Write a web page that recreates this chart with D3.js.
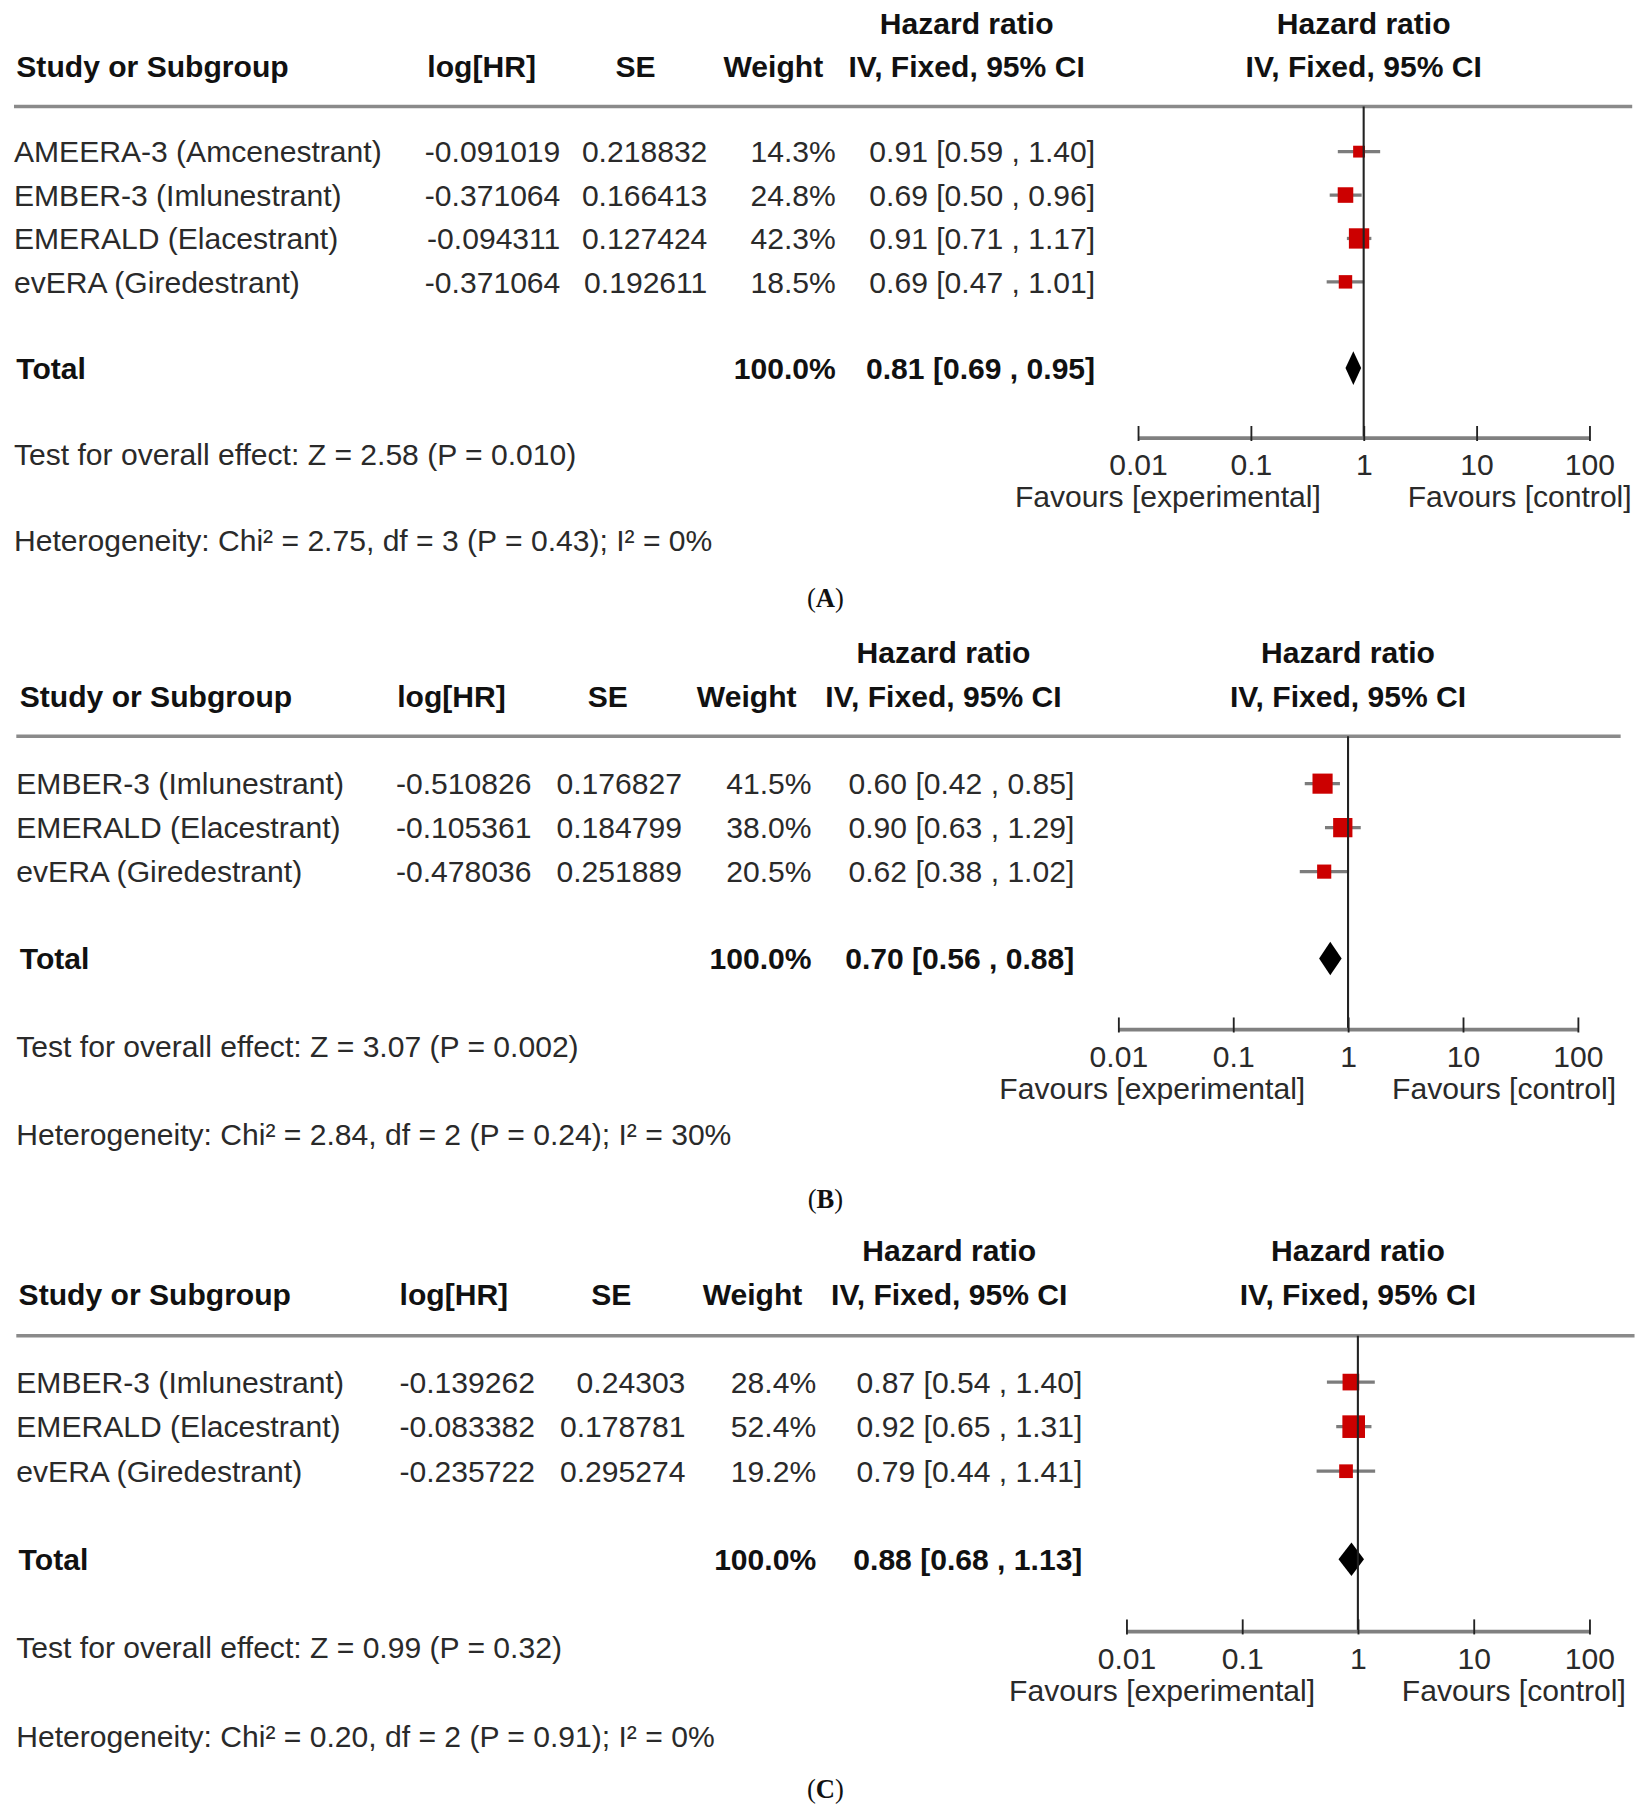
<!DOCTYPE html>
<html>
<head>
	<meta charset="utf-8">
	<script type="text/javascript" src="https://cdn.jsdelivr.net/npm/d3@7"></script>
	<title>Forest plots</title>
	<style>
		body { margin: 0; background: #fff; }
		text { font-family: "Liberation Sans", Arial, sans-serif; }
	</style>
</head>
<body>
<script type="text/javascript">

	/*------ Data ------*/

	var studiesA = ['AMEERA-3 (Amcenestrant)', 'EMBER-3 (Imlunestrant)', 'EMERALD (Elacestrant)', 'evERA (Giredestrant)'];
	var logHRA  = ['-0.091019', '-0.371064', '-0.094311', '-0.371064'];
	var seA     = ['0.218832', '0.166413', '0.127424', '0.192611'];
	var weightA = [14.3, 24.8, 42.3, 18.5];
	var hrA     = [0.91, 0.69, 0.91, 0.69];
	var lowerA  = [0.59, 0.50, 0.71, 0.47];
	var upperA  = [1.40, 0.96, 1.17, 1.01];
	var totalA  = [0.81, 0.69, 0.95];
	var testA   = 'Test for overall effect: Z = 2.58 (P = 0.010)';
	var hetA    = 'Heterogeneity: Chi\u00b2 = 2.75, df = 3 (P = 0.43); I\u00b2 = 0%';

	var studiesB = ['EMBER-3 (Imlunestrant)', 'EMERALD (Elacestrant)', 'evERA (Giredestrant)'];
	var logHRB  = ['-0.510826', '-0.105361', '-0.478036'];
	var seB     = ['0.176827', '0.184799', '0.251889'];
	var weightB = [41.5, 38.0, 20.5];
	var hrB     = [0.60, 0.90, 0.62];
	var lowerB  = [0.42, 0.63, 0.38];
	var upperB  = [0.85, 1.29, 1.02];
	var totalB  = [0.70, 0.56, 0.88];
	var testB   = 'Test for overall effect: Z = 3.07 (P = 0.002)';
	var hetB    = 'Heterogeneity: Chi\u00b2 = 2.84, df = 2 (P = 0.24); I\u00b2 = 30%';

	var studiesC = ['EMBER-3 (Imlunestrant)', 'EMERALD (Elacestrant)', 'evERA (Giredestrant)'];
	var logHRC  = ['-0.139262', '-0.083382', '-0.235722'];
	var seC     = ['0.24303', '0.178781', '0.295274'];
	var weightC = [28.4, 52.4, 19.2];
	var hrC     = [0.87, 0.92, 0.79];
	var lowerC  = [0.54, 0.65, 0.44];
	var upperC  = [1.40, 1.31, 1.41];
	var totalC  = [0.88, 0.68, 1.13];
	var testC   = 'Test for overall effect: Z = 0.99 (P = 0.32)';
	var hetC    = 'Heterogeneity: Chi\u00b2 = 0.20, df = 2 (P = 0.91); I\u00b2 = 0%';

	var totalWeights = ['100.0%', '100.0%', '100.0%'];
	var tickValues = [0.01, 0.1, 1, 10, 100];
	var tickLabels = ['0.01', '0.1', '1', '10', '100'];
	var captions = ['A', 'B', 'C'];

	/*------ Layout of each panel (drawing units = 1427 x 1568) ------*/

	var layouts = [
		{ top: 20, colHead: 57, sep: 92, row0: 131, step: 37.5, total: 318, axis: 378, test: 392, het: 467, cap: 516,
		  nameX: 12, headX: 14, logR: 484, seR: 611, wR: 722, ciR: 946,
		  logH: 416, seH: 549, wH: 668, ciH: 835, sepX2: 1410, ax0: 983, ax1: 1373 },
		{ top: 563, colHead: 601, sep: 636, row0: 677, step: 38, total: 828, axis: 889, test: 904, het: 980, cap: 1035,
		  nameX: 14, headX: 17, logR: 459, seR: 589, wR: 701, ciR: 928,
		  logH: 390, seH: 525, wH: 645, ciH: 815, sepX2: 1400, ax0: 966, ax1: 1363 },
		{ top: 1080, colHead: 1118, sep: 1154, row0: 1194, step: 38.5, total: 1347, axis: 1409, test: 1423, het: 1500, cap: 1545,
		  nameX: 14, headX: 16, logR: 462, seR: 592, wR: 705, ciR: 935,
		  logH: 392, seH: 528, wH: 650, ciH: 820, sepX2: 1412, ax0: 973, ax1: 1373 }
	];

	var panels = [
		{ studies: studiesA, logHR: logHRA, se: seA, weight: weightA, hr: hrA, lower: lowerA, upper: upperA, total: totalA, test: testA, het: hetA },
		{ studies: studiesB, logHR: logHRB, se: seB, weight: weightB, hr: hrB, lower: lowerB, upper: upperB, total: totalB, test: testB, het: hetB },
		{ studies: studiesC, logHR: logHRC, se: seC, weight: weightC, hr: hrC, lower: lowerC, upper: upperC, total: totalC, test: testC, het: hetC }
	];

	var f2 = d3.format('.2f');
	var f1 = d3.format('.1f');
	var fontSize = 26;
	var textColor = '#2a2a2a';

	var svg = d3.select('body')
			.append('svg')
			.attr('width', 1652)
			.attr('height', 1815)
			.attr('viewBox', '0 0 1427 1568');

	panels.forEach(function (p, i) {
		drawPanel(p, layouts[i], captions[i], totalWeights[i]);
	});

	function addText(g, x, y, str, anchor, bold, color) {
		return g.append('text')
			.attr('x', x)
			.attr('y', y)
			.attr('dy', '0.36em')
			.attr('text-anchor', anchor)
			.attr('font-size', fontSize)
			.attr('font-weight', bold ? 'bold' : 'normal')
			.attr('fill', color || textColor)
			.text(str);
	}

	function ciText(hr, lo, hi) {
		return f2(hr) + ' [' + f2(lo) + ' , ' + f2(hi) + ']';
	}

	function drawPanel(p, L, cap, totW) {
		var g = svg.append('g');
		var xScale = d3.scaleLog()
				.domain([0.01, 100])
				.range([L.ax0, L.ax1]);
		var x1 = xScale(1);
		var rows = p.studies.map(function (s, i) { return i; });
		var yRow = function (i) { return L.row0 + i * L.step; };
		var half = function (i) { return 1.35 * Math.sqrt(p.weight[i]); };

		// headers
		addText(g, L.ciH, L.top, 'Hazard ratio', 'middle', true, '#111');
		addText(g, x1, L.top, 'Hazard ratio', 'middle', true, '#111');
		addText(g, L.headX, L.colHead, 'Study or Subgroup', 'start', true, '#111');
		addText(g, L.logH, L.colHead, 'log[HR]', 'middle', true, '#111');
		addText(g, L.seH, L.colHead, 'SE', 'middle', true, '#111');
		addText(g, L.wH, L.colHead, 'Weight', 'middle', true, '#111');
		addText(g, L.ciH, L.colHead, 'IV, Fixed, 95% CI', 'middle', true, '#111');
		addText(g, x1, L.colHead, 'IV, Fixed, 95% CI', 'middle', true, '#111');

		g.append('line')
			.attr('x1', L.nameX).attr('x2', L.sepX2)
			.attr('y1', L.sep).attr('y2', L.sep)
			.attr('stroke', '#8a8a8a')
			.attr('stroke-width', 3);

		// study rows
		rows.forEach(function (i) {
			var y = yRow(i);
			addText(g, L.nameX, y, p.studies[i], 'start');
			addText(g, L.logR, y, p.logHR[i], 'end');
			addText(g, L.seR, y, p.se[i], 'end');
			addText(g, L.wR, y, f1(p.weight[i]) + '%', 'end');
			addText(g, L.ciR, y, ciText(p.hr[i], p.lower[i], p.upper[i]), 'end');
		});

		// total row
		addText(g, L.headX, L.total, 'Total', 'start', true, '#111');
		addText(g, L.wR, L.total, totW, 'end', true, '#111');
		addText(g, L.ciR, L.total, ciText(p.total[0], p.total[1], p.total[2]), 'end', true, '#111');

		// confidence intervals
		g.selectAll('line.ci')
			.data(rows)
			.enter()
			.append('line')
			.attr('class', 'ci')
			.attr('x1', function (i) { return xScale(p.lower[i]); })
			.attr('x2', function (i) { return xScale(p.upper[i]); })
			.attr('y1', yRow)
			.attr('y2', yRow)
			.attr('stroke', '#7c7c7c')
			.attr('stroke-width', 2.8);

		// weight boxes
		g.selectAll('rect.box')
			.data(rows)
			.enter()
			.append('rect')
			.attr('class', 'box')
			.attr('x', function (i) { return xScale(p.hr[i]) - half(i); })
			.attr('y', function (i) { return yRow(i) - half(i); })
			.attr('width', function (i) { return 2 * half(i); })
			.attr('height', function (i) { return 2 * half(i); })
			.attr('fill', '#cc0000');

		// pooled diamond
		var t = p.total;
		g.append('path')
			.attr('d', 'M' + xScale(t[1]) + ',' + L.total +
				'L' + xScale(t[0]) + ',' + (L.total - 14.5) +
				'L' + xScale(t[2]) + ',' + L.total +
				'L' + xScale(t[0]) + ',' + (L.total + 14.5) + 'Z')
			.attr('fill', '#000');

		// line of no effect
		g.append('line')
			.attr('x1', x1).attr('x2', x1)
			.attr('y1', L.sep).attr('y2', L.axis)
			.attr('stroke', '#222')
			.attr('stroke-width', 1.8);

		// axis
		var axis = g.append('g')
			.attr('transform', 'translate(0,' + L.axis + ')')
			.call(d3.axisBottom(xScale)
				.tickValues(tickValues)
				.tickFormat(function (d, i) { return tickLabels[i]; })
				.tickSizeOuter(0)
				.tickSize(0)
				.tickPadding(14));
		axis.select('.domain')
			.attr('stroke', '#808080')
			.attr('stroke-width', 3.2);
		axis.selectAll('.tick line')
			.attr('y1', -10)
			.attr('y2', 3)
			.attr('stroke', '#222')
			.attr('stroke-width', 1.6);
		axis.selectAll('.tick text')
			.attr('font-size', fontSize)
			.attr('font-family', '"Liberation Sans", Arial, sans-serif')
			.attr('fill', textColor);

		addText(g, x1 - 37, L.axis + 51, 'Favours [experimental]', 'end');
		addText(g, x1 + 38, L.axis + 51, 'Favours [control]', 'start');

		addText(g, L.nameX, L.test, p.test, 'start');
		addText(g, L.nameX, L.het, p.het, 'start');

		// caption
		var c = g.append('text')
			.attr('x', 713)
			.attr('y', L.cap)
			.attr('dy', '0.36em')
			.attr('text-anchor', 'middle')
			.attr('font-size', 23)
			.attr('fill', '#111')
			.style('font-family', '"Liberation Serif", "DejaVu Serif", serif');
		c.append('tspan').text('(');
		c.append('tspan').attr('font-weight', 'bold').text(cap);
		c.append('tspan').text(')');
	}

</script>
</body>
</html>
